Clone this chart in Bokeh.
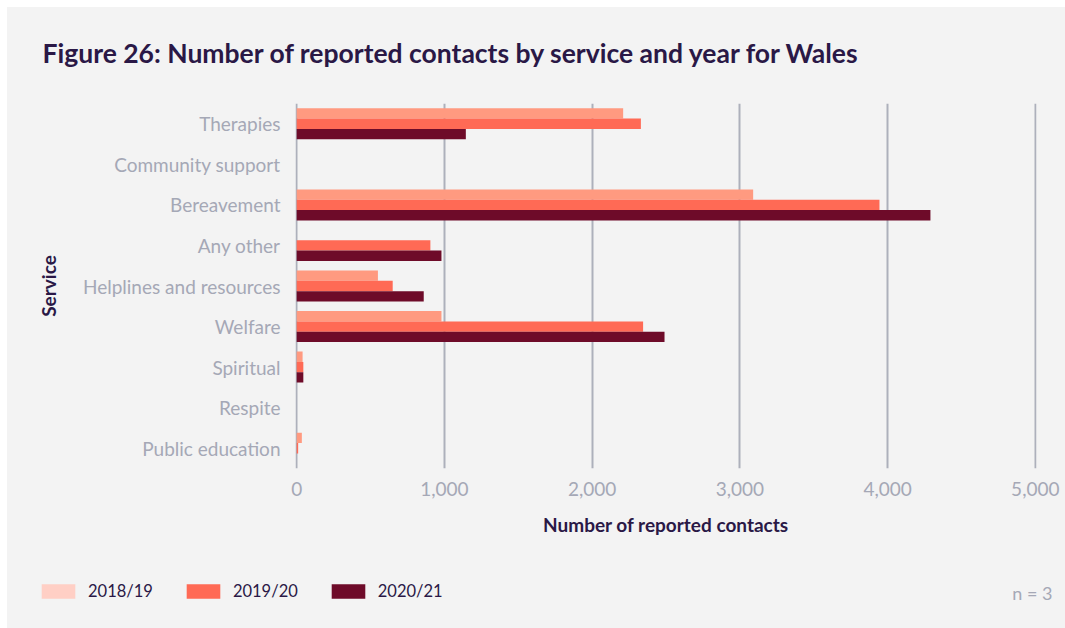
from bokeh.plotting import figure
from bokeh.layouts import column
from bokeh.models import (FactorRange, Range1d, Legend, LegendItem, Label,
                          ColumnDataSource, NumeralTickFormatter, FixedTicker)
from bokeh.transform import dodge
from bokeh.embed import file_html
from bokeh.resources import INLINE

# ---------------- data ----------------
title_text = "Figure 26: Number of reported contacts by service and year for Wales"
services = ["Therapies", "Community support", "Bereavement", "Any other",
            "Helplines and resources", "Welfare", "Spiritual", "Respite",
            "Public education"]
years = ["2018/19", "2019/20", "2020/21"]
contacts_2018_19 = [2210, 0, 3090, 0, 550, 980, 40, 0, 35]
contacts_2019_20 = [2330, 0, 3945, 905, 650, 2345, 45, 0, 10]
contacts_2020_21 = [1145, 0, 4290, 980, 860, 2490, 45, 0, 0]
x_ticks = [0, 1000, 2000, 3000, 4000, 5000]
n_text = "n = 3"

# ---------------- style ----------------
BG = "#f3f3f3"
DARK = "#2a1846"
GREY = "#a5a8b6"
GRID = "#adb0bb"
FONT = "Lato"
bar_colors = ["#ff9a80", "#ff6a55", "#6e0b29"]
legend_colors = ["#ffcfc5", "#ff6a55", "#6e0b29"]

W = 1058
H_TITLE = 80
H_MAIN = 473
H_LEG = 68


def strip_fig(h):
    f = figure(width=W, height=h, x_range=Range1d(0, W), y_range=Range1d(0, h),
               x_axis_type=None, y_axis_type=None, title_location=None,
               output_backend="svg", toolbar_location=None,
               min_border=0, min_border_left=0, min_border_right=0,
               min_border_top=0, min_border_bottom=0)
    f.frame_align = False
    f.background_fill_color = BG
    f.border_fill_color = BG
    f.outline_line_color = None
    f.grid.grid_line_color = None
    return f


# ---------------- title row ----------------
tf = strip_fig(H_TITLE)
tf.add_layout(Label(x=35, y=35, text=title_text, text_align="left",
                    text_baseline="middle", text_font=FONT,
                    text_font_size="26.5px", text_font_style="bold",
                    text_color=DARK))

# ---------------- main chart ----------------
src = ColumnDataSource(dict(service=services, y1=contacts_2018_19,
                            y2=contacts_2019_20, y3=contacts_2020_21))

p = figure(width=W, height=H_MAIN,
           y_range=FactorRange(factors=services[::-1]),
           x_range=Range1d(-8, 5008), title_location=None,
           output_backend="svg", toolbar_location=None,
           min_border_left=288, min_border_right=29,
           min_border_top=16, min_border_bottom=92)
p.frame_align = False
p.background_fill_color = BG
p.border_fill_color = BG
p.outline_line_color = None

bh = 0.255
offsets = [bh, 0.0, -bh]
cols = ["y1", "y2", "y3"]
for col, off, c in zip(cols, offsets, bar_colors):
    p.hbar(y=dodge("service", off, range=p.y_range), left=0, right=col,
           height=bh, source=src, fill_color=c, line_color=None)

p.xaxis.ticker = FixedTicker(ticks=x_ticks)
p.xaxis.formatter = NumeralTickFormatter(format="0,0")
p.xaxis.axis_line_color = None
p.xaxis.major_tick_line_color = None
p.xaxis.minor_tick_line_color = None
p.xaxis.major_label_text_font = FONT
p.xaxis.major_label_text_font_size = "19px"
p.xaxis.major_label_text_color = GREY
p.xaxis.major_label_standoff = 7
p.xaxis.axis_label = "Number of reported contacts"
p.xaxis.axis_label_text_font = FONT
p.xaxis.axis_label_text_font_size = "19px"
p.xaxis.axis_label_text_font_style = "bold"
p.xaxis.axis_label_text_color = DARK
p.xaxis.axis_label_standoff = 14

p.yaxis.axis_line_color = None
p.yaxis.major_tick_line_color = None
p.yaxis.minor_tick_line_color = None
p.yaxis.major_label_text_font = FONT
p.yaxis.major_label_text_font_size = "19px"
p.yaxis.major_label_text_color = GREY
p.yaxis.major_label_standoff = 9
p.yaxis.axis_label = "Service"
p.yaxis.axis_label_text_font = FONT
p.yaxis.axis_label_text_font_size = "19px"
p.yaxis.axis_label_text_font_style = "bold"
p.yaxis.axis_label_text_color = DARK
p.yaxis.axis_label_standoff = 20

p.xgrid.ticker = FixedTicker(ticks=x_ticks)
p.xgrid.grid_line_color = GRID
p.xgrid.grid_line_width = 2
p.ygrid.grid_line_color = None

# ---------------- legend row ----------------
lf = strip_fig(H_LEG)
nan = float("nan")
leg_items = []
for yr, c in zip(years, legend_colors):
    r = lf.hbar(y=[nan], right=[nan], left=[nan], height=1,
                fill_color=c, line_color=None)
    leg_items.append(LegendItem(label=yr, renderers=[r]))

legend = Legend(items=leg_items, orientation="horizontal", location=(30, 27),
                padding=0, margin=0, spacing=29, glyph_width=42, glyph_height=18,
                label_standoff=9, label_height=18,
                label_text_font=FONT, label_text_font_size="16.5px",
                label_text_color=DARK, label_text_baseline="middle",
                background_fill_alpha=0, border_line_color=None)
lf.add_layout(legend, "center")

lf.add_layout(Label(x=1045, y=36, text=n_text, text_align="right",
                    text_baseline="middle", text_font=FONT,
                    text_font_size="18px", text_color=GREY))

layout = column(tf, p, lf, margin=(7, 0, 0, 7), spacing=0,
                styles={"background-color": BG})
open("out.html", "w").write(file_html(layout, INLINE))
